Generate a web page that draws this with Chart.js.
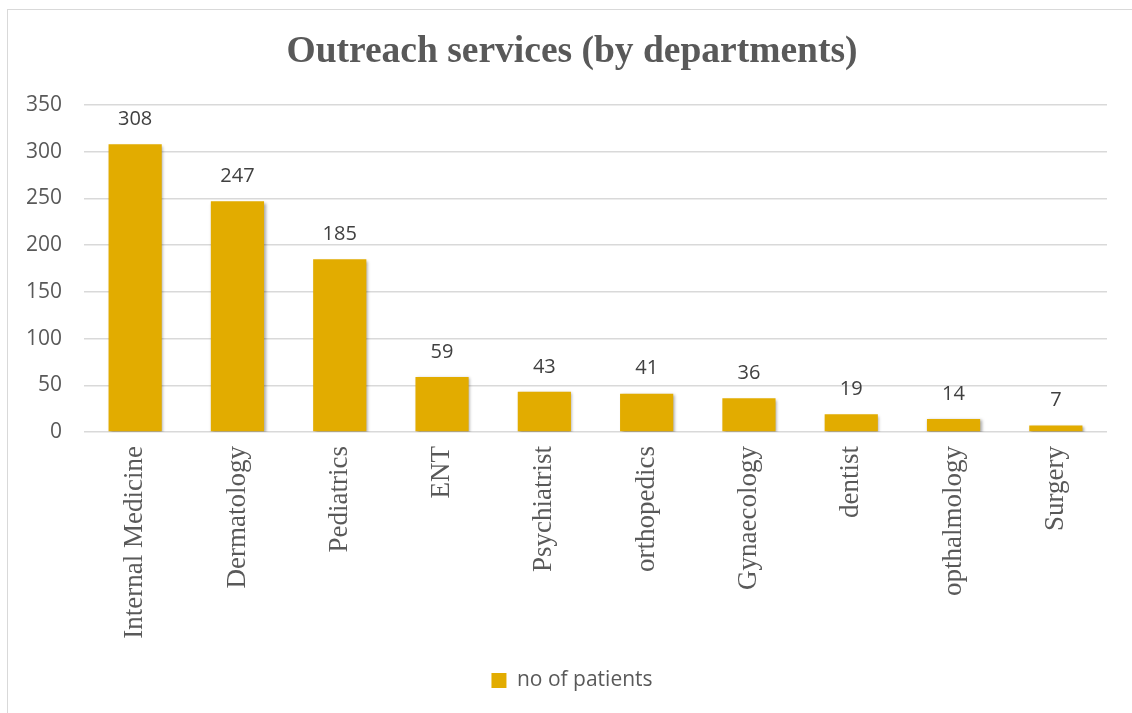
<!DOCTYPE html>
<html>
<head>
<meta charset="utf-8">
<script src="https://cdn.jsdelivr.net/npm/chart.js@4"></script>
<style>
  body { margin: 0; background: #fff; }
  #frame { position: absolute; left: 7px; top: 9px; width: 1140px; height: 720px; border-top: 1px solid #d9d9d9; border-left: 1px solid #d9d9d9; }
  #wrap { position: absolute; left: 0; top: 0; width: 1132px; height: 713px; }
</style>
</head>
<body>
<div id="frame"></div>
<div id="wrap"><canvas id="chartCanvas" width="1132" height="713"></canvas></div>
<script>
let departments = ['Internal Medicine', 'Dermatology', 'Pediatrics', 'ENT', 'Psychiatrist',
  'orthopedics', 'Gynaecology', 'dentist', 'opthalmology', 'Surgery'];
let patients = [308, 247, 185, 59, 43, 41, 36, 19, 14, 7];
let yTicks = [0, 50, 100, 150, 200, 250, 300, 350];

let barColor = '#e2ac00';
let textColor = '#595959';

// labels above bars + soft shadow like the original
let barExtras = {
  id: 'barExtras',
  beforeDatasetsDraw(chart) {
    let ctx = chart.ctx;
    ctx.save();
    ctx.shadowColor = 'rgba(0,0,0,0.35)';
    ctx.shadowBlur = 3;
    ctx.shadowOffsetX = 1.5;
    ctx.shadowOffsetY = 1.5;
  },
  afterDatasetsDraw(chart) {
    let ctx = chart.ctx;
    ctx.restore();
    ctx.save();
    ctx.font = '20px "Open Sans"';
    ctx.fillStyle = '#404040';
    ctx.textAlign = 'center';
    ctx.textBaseline = 'middle';
    chart.getDatasetMeta(0).data.forEach((bar, i) => {
      ctx.fillText(chart.data.datasets[0].data[i], bar.x, bar.y - 25);
    });
    ctx.restore();
  }
};

let ctx = document.getElementById('chartCanvas').getContext('2d');
let chartInstance = new Chart(ctx, {
  type: 'bar',
  data: {
    labels: departments,
    datasets: [{
      label: 'no of patients',
      data: patients,
      backgroundColor: barColor,
      categoryPercentage: 0.52,
      barPercentage: 1.0
    }]
  },
  options: {
    responsive: false,
    animation: false,
    layout: { padding: { left: 14, right: 2, top: 30, bottom: 12 } },
    plugins: {
      title: {
        display: true,
        text: 'Outreach services (by departments)',
        color: textColor,
        font: { family: '"Liberation Serif", "Times New Roman", serif', size: 37.5, weight: 'bold' },
        padding: { top: 0, bottom: 30 }
      },
      legend: {
        position: 'bottom',
        labels: {
          color: textColor,
          font: { family: '"Open Sans", sans-serif', size: 21 },
          boxWidth: 15,
          boxHeight: 15,
          padding: 6
        }
      },
      tooltip: { enabled: false }
    },
    scales: {
      x: {
        grid: { display: false },
        border: { display: false },
        afterFit: axis => { axis.height = 232; },
        ticks: {
          color: textColor,
          minRotation: 90,
          maxRotation: 90,
          padding: 6,
          font: { family: '"Liberation Serif", "Times New Roman", serif', size: 27 }
        }
      },
      y: {
        min: 0,
        max: yTicks[yTicks.length - 1],
        afterBuildTicks: axis => { axis.ticks = yTicks.map(v => ({ value: v })); },
        afterFit: axis => { axis.width = 70; },
        border: { display: false },
        grid: { color: '#d9d9d9', lineWidth: 1.5, drawTicks: false },
        ticks: {
          color: textColor,
          padding: 22,
          font: { family: '"Open Sans", sans-serif', size: 21 }
        }
      },
      // empty right-hand spacer so the plot ends where the original does
      spacer: {
        type: 'linear',
        position: 'right',
        grid: { display: false },
        border: { display: false },
        ticks: { display: false },
        afterFit: axis => { axis.width = 23; }
      }
    }
  },
  plugins: [barExtras]
});
</script>
</body>
</html>
